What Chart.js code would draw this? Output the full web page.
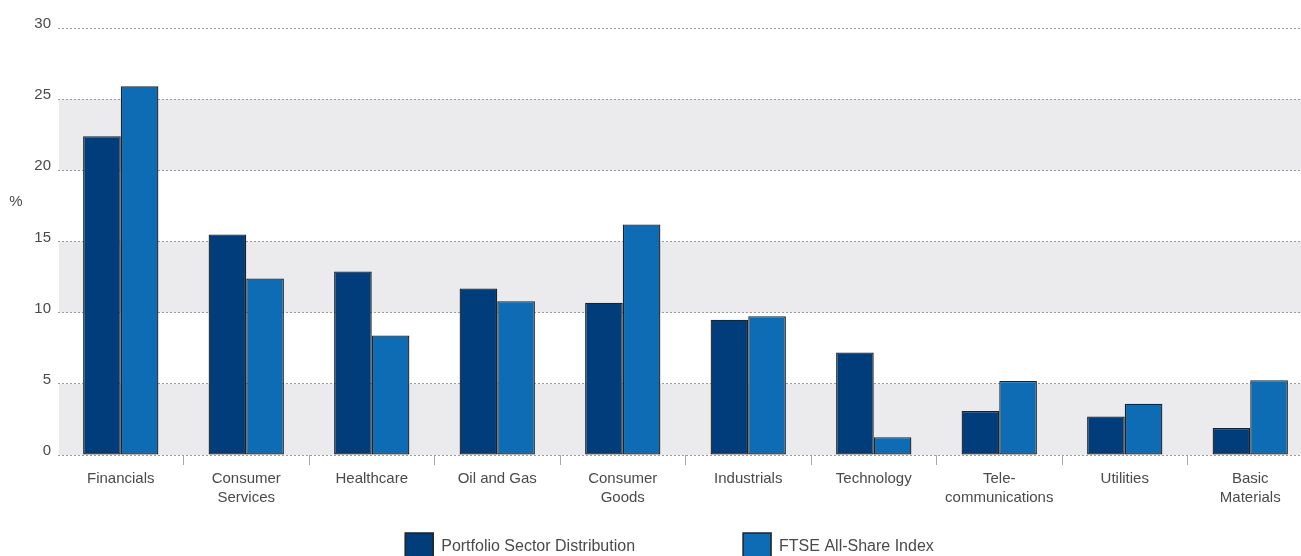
<!DOCTYPE html>
<html>
<head>
<meta charset="utf-8">
<script src="https://cdn.jsdelivr.net/npm/chart.js@4"></script>
<style>
  html, body { margin: 0; padding: 0; background: #fff; overflow: hidden; }
  #wrap { position: relative; width: 1339px; height: 571px; }
</style>
</head>
<body>
<div id="wrap"><canvas id="grafico"></canvas></div>
<script>
var sectors = [["Financials"], ["Consumer", "Services"], ["Healthcare"], ["Oil and Gas"], ["Consumer", "Goods"],
  ["Industrials"], ["Technology"], ["Tele-", "communications"], ["Utilities"], ["Basic", "Materials"]];
var portfolio = [22.4, 15.5, 12.9, 11.7, 10.7, 9.5, 7.2, 3.1, 2.7, 1.9];
var ftse = [25.9, 12.4, 8.4, 10.8, 16.2, 9.75, 1.25, 5.2, 3.6, 5.25];
var yTicks = [0, 5, 10, 15, 20, 25, 30];
var seriesNames = ["Portfolio Sector Distribution", "FTSE All-Share Index"];

var textColor = "#4a4a4a";
var fontFamily = "'Liberation Sans', Arial, sans-serif";

// grey bands behind every other 5% step + the "%" label
var bands = {
  id: "bands",
  beforeDraw: function (chart) {
    var ctx = chart.ctx, area = chart.chartArea, y = chart.scales.y;
    ctx.save();
    ctx.fillStyle = "#ebebed";
    for (var i = 0; i < yTicks.length - 1; i += 2) {
      var top = y.getPixelForValue(yTicks[i + 1]);
      var bottom = y.getPixelForValue(yTicks[i]);
      ctx.fillRect(area.left + 1, top, area.right - area.left - 1, bottom - top);
    }
    ctx.fillStyle = textColor;
    ctx.font = "15px " + fontFamily;
    ctx.textAlign = "center";
    ctx.textBaseline = "middle";
    ctx.fillText("%", 16, y.getPixelForValue(17.8));
    ctx.restore();
  }
};

new Chart(document.getElementById("grafico").getContext("2d"), {
  type: "bar",
  data: {
    labels: sectors,
    datasets: [
      {
        label: seriesNames[0],
        backgroundColor: "#023d7b",
        borderColor: "#222222",
        borderWidth: 1.3,
        borderSkipped: false,
        data: portfolio
      },
      {
        label: seriesNames[1],
        backgroundColor: "#0e6cb5",
        borderColor: "#222222",
        borderWidth: 1.3,
        borderSkipped: false,
        data: ftse
      }]
  },
  plugins: [bands],
  options: {
    responsive: true,
    maintainAspectRatio: false,
    animation: false,
    devicePixelRatio: 1,
    layout: { padding: { top: 28 } },
    datasets: { bar: { categoryPercentage: 0.6, barPercentage: 1.0 } },
    scales: {
      x: {
        offset: true,
        grid: {
          offset: true,
          drawOnChartArea: false,
          drawTicks: true,
          tickLength: 10,
          lineWidth: 1,
          color: function (c) { return c.index === 0 ? "rgba(0,0,0,0)" : "#a8a8a8"; }
        },
        border: { display: false },
        ticks: {
          color: textColor,
          padding: 4,
          maxRotation: 0,
          autoSkip: false,
          font: { family: fontFamily, size: 15, lineHeight: 1.27 }
        },
        afterFit: function (s) { s.height = 58; }
      },
      y: {
        min: 0,
        max: 30,
        grid: { color: "#9a9a9a", lineWidth: 1, drawTicks: false },
        border: { display: false, dash: [2, 2] },
        ticks: {
          stepSize: 5,
          padding: 7,
          labelOffset: -4,
          color: textColor,
          font: { family: fontFamily, size: 15 }
        },
        afterFit: function (s) { s.width = 58; }
      },
      r: {
        position: "right",
        grid: { display: false },
        border: { display: false },
        ticks: { display: false },
        afterFit: function (s) { s.width = 26; }
      }
    },
    plugins: {
      tooltip: { enabled: false },
      legend: {
        position: "bottom",
        labels: {
          boxWidth: 28,
          boxHeight: 28,
          padding: 20,
          color: textColor,
          font: { family: fontFamily, size: 16 },
          generateLabels: function (chart) {
            var items = Chart.defaults.plugins.legend.labels.generateLabels(chart);
            items.forEach(function (it, i) {
              // widen the first entry so the two keys sit far apart
              if (i === 0) it.text = it.text + "\u2003\u2003\u2003\u2003\u2003\u2002";
              it.lineWidth = 1.5;
            });
            return items;
          }
        }
      }
    }
  }
});
</script>
</body>
</html>
